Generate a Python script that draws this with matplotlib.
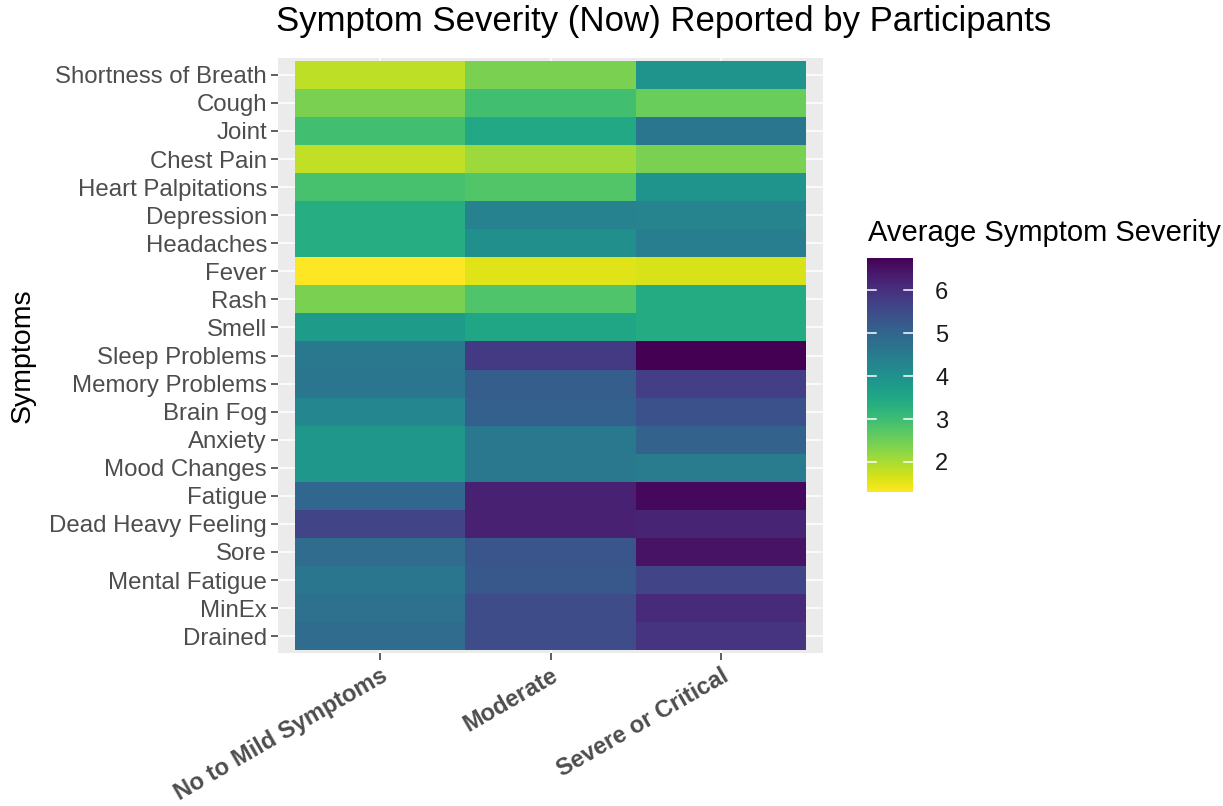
import matplotlib
matplotlib.use("Agg")
import matplotlib.pyplot as plt
import numpy as np
from matplotlib import font_manager

symptoms = [
    "Shortness of Breath", "Cough", "Joint", "Chest Pain", "Heart Palpitations",
    "Depression", "Headaches", "Fever", "Rash", "Smell", "Sleep Problems",
    "Memory Problems", "Brain Fog", "Anxiety", "Mood Changes", "Fatigue",
    "Dead Heavy Feeling", "Sore", "Mental Fatigue", "MinEx", "Drained",
]
groups = ["No to Mild Symptoms", "Moderate", "Severe or Critical"]

no_to_mild = [1.85, 2.39, 2.94, 1.82, 2.88, 3.37, 3.37, 1.30, 2.39, 3.75, 4.57,
              4.62, 4.24, 3.86, 3.86, 4.95, 5.66, 4.84, 4.62, 4.73, 4.84]
moderate = [2.39, 2.94, 3.48, 2.10, 2.77, 4.35, 4.03, 1.57, 2.80, 3.53, 5.82,
            5.15, 5.10, 4.57, 4.57, 6.26, 6.26, 5.33, 5.28, 5.50, 5.50]
severe = [3.92, 2.55, 4.62, 2.40, 3.92, 4.30, 4.46, 1.63, 3.42, 3.42, 6.75,
          5.75, 5.40, 5.06, 4.50, 6.64, 6.20, 6.48, 5.66, 6.10, 5.93]

cbar_ticks = [2, 3, 4, 5, 6]

available = {f.name for f in font_manager.fontManager.ttflist}
base_font = "Liberation Sans" if "Liberation Sans" in available else "DejaVu Sans"
plt.rcParams["font.family"] = [base_font, "DejaVu Sans"]

values = np.column_stack([no_to_mild, moderate, severe])
n_rows, n_cols = values.shape

fig = plt.figure(figsize=(12.23, 8.06), dpi=100)
fig.patch.set_facecolor("white")

ax = fig.add_axes([278 / 1223, 1 - 653 / 806, 545 / 1223, 595 / 806])
ax.set_facecolor("#ebebeb")

x_edges = np.arange(n_cols + 1) - 0.5
y_edges = np.arange(n_rows + 1) - 0.5
vmin, vmax = 1.3, 6.75
mesh = ax.pcolormesh(x_edges, y_edges, values, cmap="viridis_r",
                     vmin=vmin, vmax=vmax, zorder=2)

ax.set_xlim(-0.6, n_cols - 0.4)
ax.set_ylim(n_rows - 0.4, -0.6)

ax.set_xticks(np.arange(n_cols))
ax.set_xticklabels(groups, rotation=30, ha="right", va="top",
                   rotation_mode="anchor", fontweight="bold",
                   fontsize=17, color="#4d4d4d")
ax.set_yticks(np.arange(n_rows))
ax.set_yticklabels(symptoms, fontsize=17.3, color="#4d4d4d")

ax.grid(True, color="white", linewidth=1.1, zorder=1)
ax.set_axisbelow(True)
ax.tick_params(axis="both", length=5, width=1.1, color="#333333", pad=3)
for s in ax.spines.values():
    s.set_visible(False)

ax.set_ylabel("Symptoms", fontsize=20.5, color="black", labelpad=10)
fig.text(664 / 1223, 1 - 22 / 806, "Symptom Severity (Now) Reported by Participants",
         ha="center", va="center", fontsize=25, color="black")

# colour bar
cax = fig.add_axes([867 / 1223, 1 - 492 / 806, 46 / 1223, 234 / 806])
cb = fig.colorbar(mesh, cax=cax, ticks=cbar_ticks)
cb.outline.set_visible(False)
cax.tick_params(length=0, labelsize=17, pad=16, labelcolor="#1a1a1a")
for t in cbar_ticks:
    cax.plot([0, 0.2], [t, t], color="white", linewidth=1.1,
             transform=cax.get_yaxis_transform())
    cax.plot([0.8, 1.0], [t, t], color="white", linewidth=1.1,
             transform=cax.get_yaxis_transform())
fig.text(868 / 1223, 1 - 233 / 806, "Average Symptom Severity",
         ha="left", va="center", fontsize=21, color="black")

fig.savefig("out.png", dpi=100)
